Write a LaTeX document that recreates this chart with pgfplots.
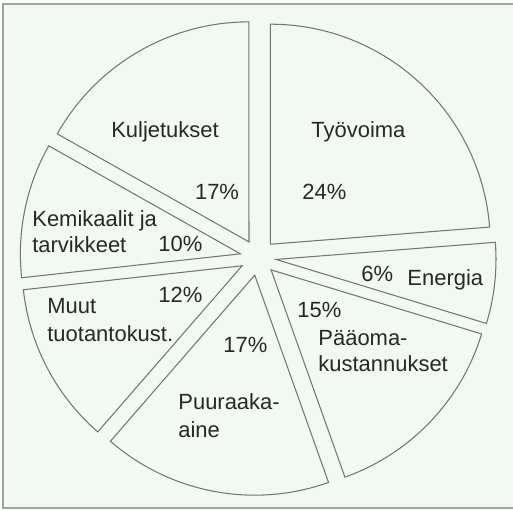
\documentclass[border=0pt]{standalone}
\usepackage{fontspec}
\setmainfont{Liberation Sans}
\usepackage{pgfplots}
\pgfplotsset{compat=1.18}
\definecolor{bg}{RGB}{242,248,242}
\definecolor{edge}{RGB}{115,118,115}
\definecolor{frame}{RGB}{160,162,160}
\definecolor{txt}{RGB}{40,40,40}
\begin{document}
\begin{tikzpicture}
\begin{axis}[
  at={(0,0)}, anchor=south west,
  x=0.02cm, y=0.02cm,
  xmin=0, xmax=513, ymin=0, ymax=510,
  hide axis, clip=false,
]
% background and frame (pixel coordinates, y flipped: y = 510 - y_img)
\fill[bg] (axis cs:3,2) rectangle (axis cs:516,506);
\draw[frame, line width=1.1pt] (axis cs:516,506) -- (axis cs:3,506) -- (axis cs:3,2) -- (axis cs:516,2);
\pgfplotsextra{
  \xdef\acc{90}
  \foreach \v in {24,6,15,17,12,10,17} {
    \pgfmathsetmacro{\aend}{\acc-\v*360/101}
    \pgfmathsetmacro{\amid}{(\acc+\aend)/2}
    \pgfmathsetmacro{\ax}{258+18*cos(\amid)}
    \pgfmathsetmacro{\ay}{252.5+18*sin(\amid)}
    \pgfmathsetmacro{\sx}{\ax+220*cos(\acc)}
    \pgfmathsetmacro{\sy}{\ay+220*sin(\acc)}
    \draw[edge, line width=0.6pt, line join=miter]
      (axis cs:\ax,\ay) -- (axis cs:\sx,\sy)
      arc[start angle=\acc, end angle=\aend, radius=4.4cm] -- cycle;
    \xdef\acc{\aend}
  }
}
\begin{scope}[every node/.style={font=\fontsize{12.5}{15}\selectfont, text=txt, inner sep=0pt}]
\node[anchor=base] at (axis cs:165,372) {Kuljetukset};
\node[anchor=base] at (axis cs:217,310) {17\%};
\node[anchor=base west] at (axis cs:32,283) {Kemikaalit ja};
\node[anchor=base west] at (axis cs:32,257) {tarvikkeet};
\node[anchor=base west] at (axis cs:158,258) {10\%};
\node[anchor=base west] at (axis cs:311,372) {Työvoima};
\node[anchor=base west] at (axis cs:302,310) {24\%};
\node[anchor=base west] at (axis cs:361,228) {6\%};
\node[anchor=base west] at (axis cs:407,224) {Energia};
\node[anchor=base west] at (axis cs:297,192) {15\%};
\node[anchor=base west] at (axis cs:318,164) {Pääoma-};
\node[anchor=base west] at (axis cs:318,138) {kustannukset};
\node[anchor=base west] at (axis cs:158,207) {12\%};
\node[anchor=base west] at (axis cs:47,196) {Muut};
\node[anchor=base west] at (axis cs:47,168) {tuotantokust.};
\node[anchor=base west] at (axis cs:223,157) {17\%};
\node[anchor=base west] at (axis cs:178,100) {Puuraaka-};
\node[anchor=base west] at (axis cs:178,72) {aine};
\end{scope}
\end{axis}
\pgfresetboundingbox
\path[use as bounding box] (0,0) rectangle (10.26cm,10.2cm);
\end{tikzpicture}
\end{document}
